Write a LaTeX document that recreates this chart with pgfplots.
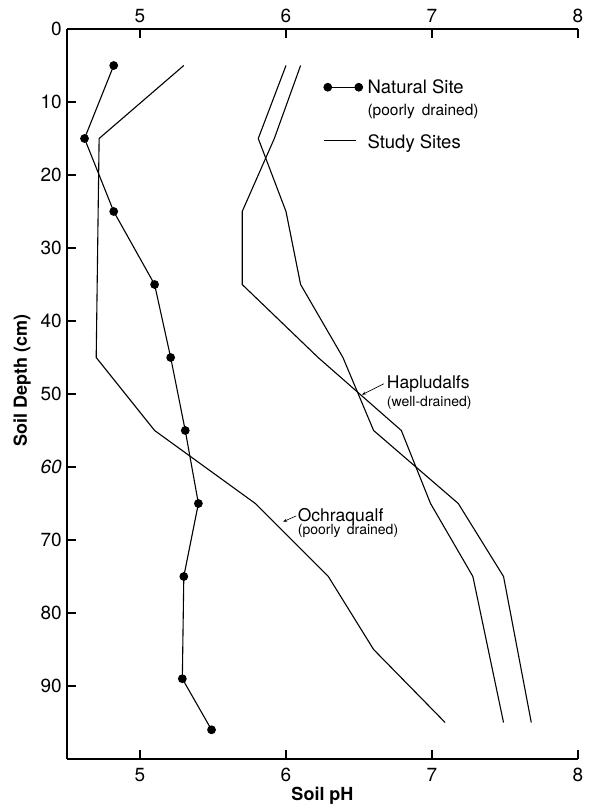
\documentclass[border=0pt]{standalone}
\usepackage{fontspec}
\setmainfont{TeX Gyre Heros}
\usepackage{pgfplots}
\pgfplotsset{compat=1.18}
\usetikzlibrary{arrows.meta}

\newcommand{\fs}[1]{\fontsize{#1}{#1}\selectfont}

\pgfplotsset{
  natleg/.style={legend image code/.code={\draw[##1, mark repeat=1] plot coordinates {(4pt,0pt) (35pt,0pt)};}},
  studyleg/.style={legend image code/.code={\draw[##1] (0pt,-7pt) -- (32pt,-7pt);}},
  soil/.style={
    at={(67pt,46pt)}, anchor=south west,
    scale only axis, width=511pt, height=730pt,
    xmin=4.5, xmax=8, ymin=0, ymax=100, y dir=reverse,
    axis line style={line width=2.3pt, -},
    tick align=inside, major tick length=9pt,
    tick style={line width=1.3pt, black},
    xtick={5,6,7,8}, xticklabels={5,6,7,8},
    /pgf/number format/assume math mode=true,
    tick label style={font=\fs{19}, inner sep=0pt},
  }
}

\begin{document}
\begin{tikzpicture}
\useasboundingbox (0,0) rectangle (590pt,805pt);
\begin{axis}[soil,
  axis x line*=bottom, axis y line*=left,
  ytick={0,10,...,90},
  yticklabels={0,10,20,30,40,50,\textit{60},70,80,90},
  yticklabel style={xshift=-5pt},
  xticklabel style={yshift=-9pt},
  xlabel={Soil pH},
  xlabel style={at={(axis description cs:0.5,-0.0575)}, anchor=base, font=\fs{18}\bfseries},
  ylabel={Soil Depth (cm)},
  ylabel style={at={(axis description cs:-0.088,0.519)}, anchor=center, font=\fs{18}\bfseries},
  legend cell align=left,
  legend style={draw=none, fill=none, inner sep=0pt, row sep=0pt,
    at={(axis description cs:0.501,0.931)}, anchor=north west,
    nodes={inner sep=0pt},
    /tikz/every odd column/.append style={column sep=5pt}},
]
% Natural site (poorly drained)
\addplot[black, line width=1.1pt, mark=*, mark size=3.8pt, natleg]
  coordinates {(4.82,5) (4.62,15) (4.82,25) (5.10,35) (5.21,45) (5.31,55) (5.40,65) (5.30,75) (5.29,89) (5.49,96)};
\addlegendentry{\fs{18.5}Natural Site}
\addlegendimage{empty legend}
\addlegendentry{\fs{15.5}\rule{0pt}{21pt}(poorly\hspace{0.45em}drained)}
% Study sites: Ochraqualf
\addplot[black, line width=1.1pt, studyleg]
  coordinates {(5.30,5) (4.72,15) (4.70,45) (5.10,55) (5.79,65) (6.29,75) (6.60,85) (7.09,95)};
\addlegendentry{\fs{18.5}\rule{0pt}{31.5pt}Study Sites}
% Study sites: Hapludalfs
\addplot[black, line width=1.1pt, forget plot]
  coordinates {(6.00,5) (5.81,15) (6.00,25) (6.10,35) (6.39,45) (6.60,55) (7.18,65) (7.49,75) (7.68,95)};
\addplot[black, line width=1.1pt, forget plot]
  coordinates {(6.10,5) (5.92,15) (5.70,25) (5.70,35) (6.22,45) (6.79,55) (6.99,65) (7.28,75) (7.49,95)};

\node[anchor=base west, inner sep=0pt, font=\fs{17.5}] at (axis cs:6.69,49.3) {Hapludalfs};
\node[anchor=base west, inner sep=0pt, font=\fs{14}] at (axis cs:6.69,51.7) {(well-drained)};
\draw[-{Stealth[length=4pt,width=3pt]}, line width=0.6pt] (axis cs:6.67,48.6) -- (axis cs:6.52,50.1);
\node[anchor=base west, inner sep=0pt, font=\fs{17.5}] at (axis cs:6.08,67.4) {Ochraqualf};
\node[anchor=base west, inner sep=0pt, font=\fs{14}] at (axis cs:6.08,69.2) {(poorly\hspace{0.45em}drained)};
\draw[-{Stealth[length=4pt,width=3pt]}, line width=0.6pt] (axis cs:6.07,66.7) -- (axis cs:5.98,67.5);
\end{axis}
\begin{axis}[soil,
  axis x line*=top, axis y line=none,
  xticklabel style={yshift=6pt},
]
\end{axis}
\end{tikzpicture}
\end{document}
